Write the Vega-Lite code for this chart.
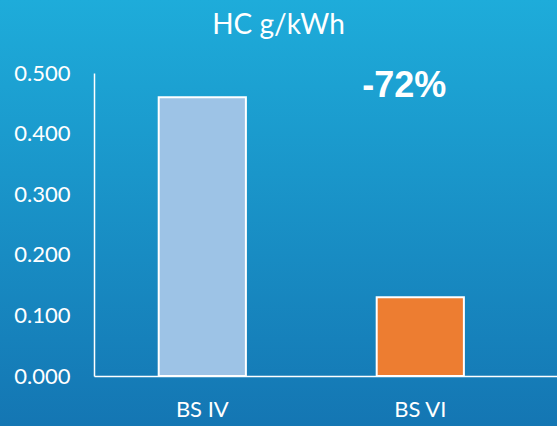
{
  "$schema": "https://vega.github.io/schema/vega-lite/v6.json",
  "width": 557,
  "height": 426,
  "autosize": {"type": "none"},
  "padding": 0,
  "background": "#1a90c8",
  "config": {
    "view": {
      "stroke": null,
      "fill": {"gradient": "linear", "x1": 0, "y1": 0, "x2": 0, "y2": 1,
        "stops": [{"offset": 0, "color": "#1eacda"}, {"offset": 1, "color": "#1476b3"}]}
    },
    "font": "Lato"
  },
  "title": {"text": "HC g/kWh", "color": "white", "fontSize": 28, "font": "Lato", "fontWeight": "normal", "offset": -40, "anchor": "middle", "frame": "bounds"},
  "data": {"values": [{"standard": "BS IV", "hc": 0.46}, {"standard": "BS VI", "hc": 0.13}]},
  "layer": [
    {
      "mark": {"type": "bar", "stroke": "white", "strokeWidth": 2},
      "encoding": {
        "x": {"field": "standard", "type": "nominal", "sort": null,
          "scale": {"range": [94, 557], "paddingInner": 0.6, "paddingOuter": 0.362, "align": 0.41},
          "axis": {"title": null, "labelAngle": 0, "offset": -50, "domainColor": "white", "domainWidth": 1.5, "ticks": false, "labelColor": "white", "labelFontSize": 22, "labelPadding": 23, "labelFont": "Lato"}},
        "y": {"field": "hc", "type": "quantitative",
          "scale": {"domain": [0, 0.5], "range": [376, 73], "nice": false, "zero": true},
          "axis": {"title": null, "format": ".3f", "values": [0, 0.1, 0.2, 0.3, 0.4, 0.5], "offset": -94, "grid": false, "ticks": false, "domainColor": "white", "domainWidth": 1.5, "labelColor": "white", "labelFontSize": 22, "labelPadding": 24, "labelFont": "Lato"}},
        "color": {"field": "standard", "type": "nominal", "scale": {"range": ["#9dc3e6", "#ed7d31"]}, "legend": null}
      }
    },
    {
      "data": {"values": [{"standard": "BS VI", "hc": 0.478, "label": "-72%"}]},
      "mark": {"type": "text", "font": "Liberation Sans", "fontWeight": "bold", "fontSize": 36, "color": "white", "dx": -16},
      "encoding": {
        "x": {"field": "standard", "type": "nominal", "sort": null},
        "y": {"field": "hc", "type": "quantitative"},
        "text": {"field": "label"}
      }
    }
  ]
}
